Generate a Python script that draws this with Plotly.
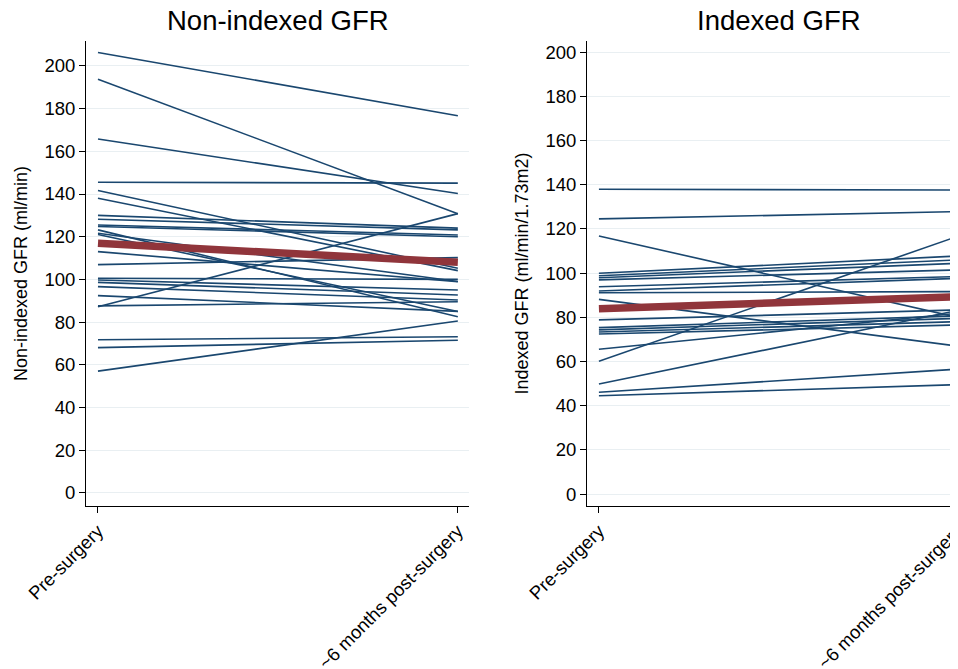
import plotly.graph_objects as go

# ---------------- data ----------------
timepoints = ["Pre-surgery", "~6 months post-surgery"]

left_pre = [206.3, 193.8, 165.8, 145.5, 141.6, 138.0, 130.0, 128.2, 125.5, 124.8,
            123.2, 121.6, 121.0, 113.0, 106.9, 100.5, 99.7, 98.6, 96.6, 92.4,
            87.2, 87.6, 71.7, 68.0, 57.0]
left_post = [176.7, 130.8, 140.2, 145.1, 105.2, 104.1, 124.0, 123.2, 120.8, 120.0,
             82.5, 99.0, 84.9, 98.9, 110.2, 100.0, 95.0, 92.7, 90.3, 85.0,
             130.8, 89.5, 73.1, 71.5, 80.5]
left_mean = [116.9, 108.0]

right_pre = [137.9, 124.5, 116.8, 99.9, 98.8, 97.9, 96.9, 93.8, 91.9, 91.1,
             88.1, 78.8, 75.3, 74.3, 73.3, 72.4, 65.5, 60.1, 49.8, 46.1, 44.5]
right_post = [137.6, 127.8, 80.0, 107.7, 105.9, 104.4, 101.4, 98.4, 97.6, 91.6,
              67.0, 83.3, 80.6, 79.5, 78.0, 76.5, 81.8, 116.5, 83.0, 56.5, 49.5]
right_mean = [83.9, 89.3]

y_ticks = [0, 20, 40, 60, 80, 100, 120, 140, 160, 180, 200]

# ---------------- style ----------------
NAVY = "#1a476f"
MAROON = "#90353b"
GRID = "#e9eff2"
FONT = "Liberation Sans, Arial, Helvetica, sans-serif"
W, H = 950, 661     # page has an 8px body margin
OFF = 8             # page offset of the figure

def px(xpage):
    return (xpage - OFF) / W

def py(ypage):
    return 1 - (ypage - OFF) / H

fig = go.Figure()

def add_panel(pre, post, mean, xa, ya):
    xs, ys = [], []
    for a, b in zip(pre, post):
        xs += [0, 1, None]
        ys += [a, b, None]
    fig.add_trace(go.Scatter(x=xs, y=ys, mode="lines", xaxis=xa, yaxis=ya,
                             line=dict(color=NAVY, width=1.6), showlegend=False,
                             hoverinfo="skip"))
    fig.add_trace(go.Scatter(x=[0, 1], y=mean, mode="lines", xaxis=xa, yaxis=ya,
                             line=dict(color=MAROON, width=7.5), showlegend=False))

add_panel(left_pre, left_post, left_mean, "x", "y")
add_panel(right_pre, right_post, right_mean, "x2", "y2")

y_dom = [py(506), py(41)]

def xaxis(domain, rng, anchor):
    return dict(domain=domain, range=rng, anchor=anchor, automargin=False,
                tickvals=[0, 1], ticktext=timepoints, tickangle=-45,
                ticks="outside", ticklen=6, tickcolor="black", tickwidth=1,
                showline=True, linecolor="black", linewidth=1,
                showgrid=False, zeroline=False, ticklabeloverflow="allow",
                tickfont=dict(family=FONT, size=18.5, color="black"))

def yaxis(rng, anchor, title):
    return dict(domain=y_dom, range=rng, anchor=anchor, automargin=False,
                tickvals=y_ticks, ticks="outside", ticklen=6, tickcolor="black",
                tickwidth=1, showline=True, linecolor="black", linewidth=1,
                showgrid=True, gridcolor=GRID, gridwidth=1, zeroline=False,
                tickfont=dict(family=FONT, size=18.5, color="black"),
                title=dict(text=title, font=dict(family=FONT, size=18, color="black"),
                           standoff=12))

fig.update_layout(
    width=W, height=H,
    margin=dict(l=0, r=0, t=0, b=0, autoexpand=False),
    plot_bgcolor="white", paper_bgcolor="white",
    xaxis=xaxis([px(86), px(469)], [-0.0333, 1.031], "y"),
    yaxis=yaxis([-6.2, 211.7], "x", "Non-indexed GFR (ml/min)"),
    xaxis2=xaxis([px(587), 1.0], [-0.0333, 1.003], "y2"),
    yaxis2=yaxis([-5.4, 205.0], "x2", "Indexed GFR (ml/min/1.73m2)"),
    annotations=[
        dict(text="Non-indexed GFR", x=px((86 + 469) / 2), y=py(21),
             xref="paper", yref="paper", showarrow=False, xanchor="center",
             yanchor="middle", font=dict(family=FONT, size=27.5, color="black")),
        dict(text="Indexed GFR", x=px((587 + 970) / 2), y=py(21),
             xref="paper", yref="paper", showarrow=False, xanchor="center",
             yanchor="middle", font=dict(family=FONT, size=27.5, color="black")),
    ],
)

fig.write_html("out.html")
